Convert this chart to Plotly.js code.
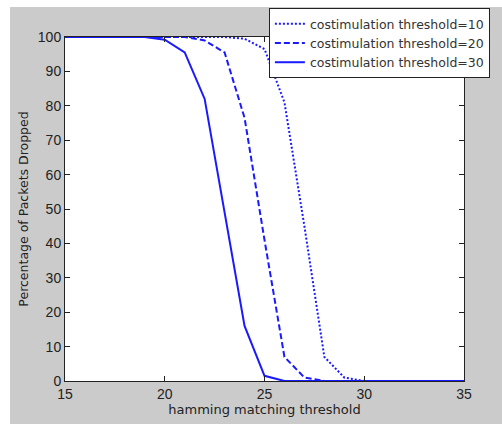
<!DOCTYPE html>
<html>
<head>
<meta charset="utf-8">
<script src="https://cdn.plot.ly/plotly-3.0.1.min.js"></script>
<style>
html,body{margin:0;padding:0;background:#ffffff;}
#chart{position:absolute;left:10px;top:7px;width:492px;height:417px;}
</style>
</head>
<body>
<div id="chart"></div>
<script>
const hamming = [15,16,17,18,19,20,21,22,23,24,25,26,27,28,29,30,31,32,33,34,35];
const costim10 = [100,100,100,100,100,100,100,100,100,99.5,96.5,81,45,7,1,0,0,0,0,0,0];
const costim20 = [100,100,100,100,100,100,100,99,95.5,76.5,41,7,1,0,0,0,0,0,0,0,0];
const costim30 = [100,100,100,100,100,99.2,95.5,82,49,16,1.5,0,0,0,0,0,0,0,0,0,0];
const seriesNames = ['costimulation threshold=10','costimulation threshold=20','costimulation threshold=30'];
const xTicks = [15,20,25,30,35];
const yTicks = [0,10,20,30,40,50,60,70,80,90,100];

const blue = '#1a1aff';
const traces = [
  {x: hamming, y: costim10, name: seriesNames[0], mode: 'lines', line: {color: blue, width: 2, dash: '2px,2px'}},
  {x: hamming, y: costim20, name: seriesNames[1], mode: 'lines', line: {color: blue, width: 2, dash: '6px,3px'}},
  {x: hamming, y: costim30, name: seriesNames[2], mode: 'lines', line: {color: blue, width: 2}}
];

const axisCommon = {
  showgrid: false, zeroline: false, showline: true, linecolor: '#222', linewidth: 1,
  mirror: 'ticks', ticks: 'inside', ticklen: 5, tickcolor: '#222',
  tickfont: {family: 'Liberation Sans, Arial, sans-serif', size: 14, color: '#222'}
};

const layout = {
  width: 492, height: 417,
  paper_bgcolor: '#cbcbcb', plot_bgcolor: '#ffffff',
  margin: {l: 55, r: 38, t: 30, b: 43, autoexpand: false},
  showlegend: true,
  legend: {
    x: 0.511, xanchor: 'left', y: 1.084, yanchor: 'top',
    bgcolor: '#ffffff', bordercolor: '#222', borderwidth: 1,
    font: {family: 'DejaVu Sans, sans-serif', size: 12.5, color: '#333'},
    tracegroupgap: 0
  },
  xaxis: Object.assign({}, axisCommon, {
    range: [15, 35], tickvals: xTicks,
    title: {text: 'hamming matching threshold', standoff: 4,
      font: {family: 'DejaVu Sans, sans-serif', size: 13, color: '#222'}}
  }),
  yaxis: Object.assign({}, axisCommon, {
    range: [0, 100], tickvals: yTicks,
    title: {text: 'Percentage of Packets Dropped', standoff: 6,
      font: {family: 'DejaVu Sans, sans-serif', size: 12.5, color: '#222'}}
  })
};

Plotly.newPlot('chart', traces, layout, {displayModeBar: false, staticPlot: true});
</script>
</body>
</html>
